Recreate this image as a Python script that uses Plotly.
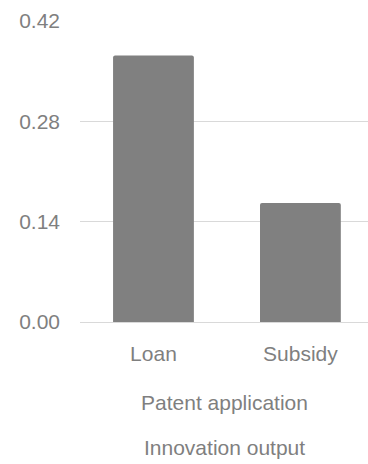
import plotly.graph_objects as go

# Estimated effect sizes on patent applications by funding instrument
categories = ["Loan", "Subsidy"]
values = [0.372, 0.166]
y_ticks = [0.00, 0.14, 0.28, 0.42]
y_tick_labels = ["0.00", "0.14", "0.28", "0.42"]
group_label = "Patent application"
outer_label = "Innovation output"

text_color = "#7f7f7f"
font_family = "Liberation Sans, Arial, sans-serif"
font_size = 21

fig = go.Figure(
    go.Bar(
        x=categories,
        y=values,
        marker=dict(color="#808080", line=dict(width=0)),
        width=0.55,
    )
)

fig.update_layout(
    width=368,
    height=464,
    margin=dict(l=80, r=0, t=21, b=142),
    paper_bgcolor="white",
    plot_bgcolor="white",
    showlegend=False,
    barcornerradius=2,
    font=dict(family=font_family, size=font_size, color=text_color),
)

fig.update_xaxes(
    range=[-0.5, 1.46],
    showgrid=False,
    showline=False,
    zeroline=False,
    ticks="",
    ticklabelstandoff=17,
    tickfont=dict(size=font_size, color=text_color),
)

fig.update_yaxes(
    range=[0, 0.42],
    tickvals=y_ticks,
    ticktext=y_tick_labels,
    showgrid=True,
    gridcolor="#d9d9d9",
    gridwidth=1,
    zeroline=True,
    zerolinecolor="#d9d9d9",
    zerolinewidth=1,
    showline=False,
    ticks="",
    ticklabelstandoff=19,
    tickfont=dict(size=font_size, color=text_color),
)

fig.add_annotation(
    text=group_label, xref="paper", yref="paper",
    x=0.5, y=-0.268, xanchor="center", yanchor="middle",
    showarrow=False, font=dict(size=font_size, color=text_color),
)
fig.add_annotation(
    text=outer_label, xref="paper", yref="paper",
    x=0.5, y=-0.417, xanchor="center", yanchor="middle",
    showarrow=False, font=dict(size=font_size, color=text_color),
)

fig.write_html("out.html")
